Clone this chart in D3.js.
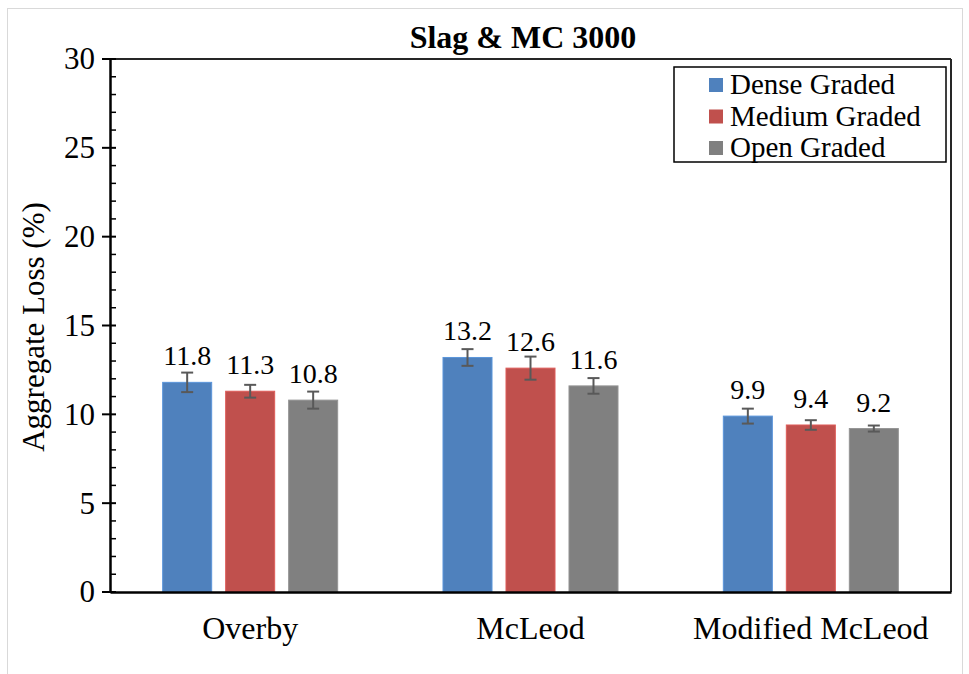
<!DOCTYPE html>
<html><head><meta charset="utf-8">
<script src="https://cdn.jsdelivr.net/npm/d3@7"></script>
<style>body{margin:0;background:#fff}</style>
</head><body><svg id="c" width="969" height="674"></svg>
<script>
const categories = ["Overby", "McLeod", "Modified McLeod"];
const seriesNames = ["Dense Graded", "Medium Graded", "Open Graded"];
const dense = [11.8, 13.2, 9.9];
const medium = [11.3, 12.6, 9.4];
const open = [10.8, 11.6, 9.2];
const denseErr = [0.55, 0.47, 0.42];
const mediumErr = [0.36, 0.65, 0.27];
const openErr = [0.48, 0.44, 0.17];
const yTicks = [0, 5, 10, 15, 20, 25, 30];
const colors = ["#4F81BD", "#C0504D", "#808080"];

const values = [dense, medium, open];
const errs = [denseErr, mediumErr, openErr];
const FF = "Liberation Serif, Times New Roman, serif";

const svg = d3.select("#c").attr("font-family", FF);
const L = 110, R = 951, T = 59, B = 592;

svg.append("rect").attr("x", 7.5).attr("y", 8.5).attr("width", 955).attr("height", 700)
  .attr("fill", "none").attr("stroke", "#d9d9d9").attr("stroke-width", 1);

const y = d3.scaleLinear().domain([0, 30]).range([B, T]);
const x0 = d3.scaleBand().domain(categories).range([L, R]).paddingInner(0).paddingOuter(0);
const x1 = d3.scaleBand().domain(seriesNames).range([0, x0.bandwidth()]).paddingInner(0.222).paddingOuter(0.836);

svg.append("line").attr("x1", L).attr("x2", R).attr("y1", T).attr("y2", T).attr("stroke", "#262626").attr("stroke-width", 2);
svg.append("line").attr("x1", R).attr("x2", R).attr("y1", T).attr("y2", B).attr("stroke", "#262626").attr("stroke-width", 2);

categories.forEach((c, ci) => {
  seriesNames.forEach((s, si) => {
    const v = values[si][ci];
    const bx = x0(c) + x1(s);
    svg.append("rect").attr("x", bx).attr("y", y(v)).attr("width", x1.bandwidth()).attr("height", y(0) - y(v))
      .attr("fill", colors[si]).attr("stroke", d3.color(colors[si]).brighter(0.4)).attr("stroke-width", 1);
    const cx = bx + x1.bandwidth() / 2;
    const e = errs[si][ci];
    const g = svg.append("g").attr("stroke", "#595959").attr("stroke-width", 2);
    g.append("line").attr("x1", cx).attr("x2", cx).attr("y1", y(v + e)).attr("y2", y(v - e));
    g.append("line").attr("x1", cx - 6).attr("x2", cx + 6).attr("y1", y(v + e)).attr("y2", y(v + e));
    g.append("line").attr("x1", cx - 6).attr("x2", cx + 6).attr("y1", y(v - e)).attr("y2", y(v - e));
    svg.append("text").attr("x", cx).attr("y", y(v) - 17).attr("text-anchor", "middle")
      .attr("font-family", FF).attr("font-size", 28).attr("fill", "#000").text(v.toFixed(1));
  });
});

const yAxis = d3.axisLeft(y).tickValues(yTicks).tickSize(0).tickPadding(15).tickFormat(d3.format("d"));
const ya = svg.append("g").attr("transform", `translate(${L},0)`).call(yAxis).attr("font-family", FF);
ya.select(".domain").attr("stroke", "#000").attr("stroke-width", 2.5);
ya.selectAll("text").attr("font-size", 31).attr("fill", "#000").attr("font-family", FF);
yTicks.forEach(t => {
  svg.append("line").attr("x1", L - 8).attr("x2", L + 6).attr("y1", y(t)).attr("y2", y(t)).attr("stroke", "#000").attr("stroke-width", 2);
});
d3.range(0, 31).filter(t => t % 5 !== 0).forEach(t => {
  svg.append("line").attr("x1", L).attr("x2", L + 6).attr("y1", y(t)).attr("y2", y(t)).attr("stroke", "#000").attr("stroke-width", 1.5);
});

const xAxis = d3.axisBottom(x0).tickSize(0).tickPadding(24);
const xa = svg.append("g").attr("transform", `translate(0,${B})`).call(xAxis).attr("font-family", FF);
xa.select(".domain").attr("stroke", "#000").attr("stroke-width", 2.5);
xa.selectAll("text").attr("font-size", 32).attr("fill", "#000").attr("font-family", FF);

svg.append("text").attr("x", 523).attr("y", 48).attr("text-anchor", "middle").attr("font-family", FF)
  .attr("font-size", 32).attr("font-weight", "bold").text("Slag & MC 3000");

svg.append("text").attr("transform", "translate(44,327) rotate(-90)").attr("text-anchor", "middle").attr("font-family", FF)
  .attr("font-size", 31).text("Aggregate Loss (%)");

svg.append("rect").attr("x", 674).attr("y", 67).attr("width", 272).attr("height", 95)
  .attr("fill", "#fff").attr("stroke", "#000").attr("stroke-width", 1.5);
seriesNames.forEach((s, i) => {
  const cy = 85 + i * 31.5;
  svg.append("rect").attr("x", 709).attr("y", cy - 7).attr("width", 14).attr("height", 14).attr("fill", colors[i]);
  svg.append("text").attr("x", 730).attr("y", cy + 9).attr("font-family", FF).attr("font-size", 29).text(s);
});
</script></body></html>
